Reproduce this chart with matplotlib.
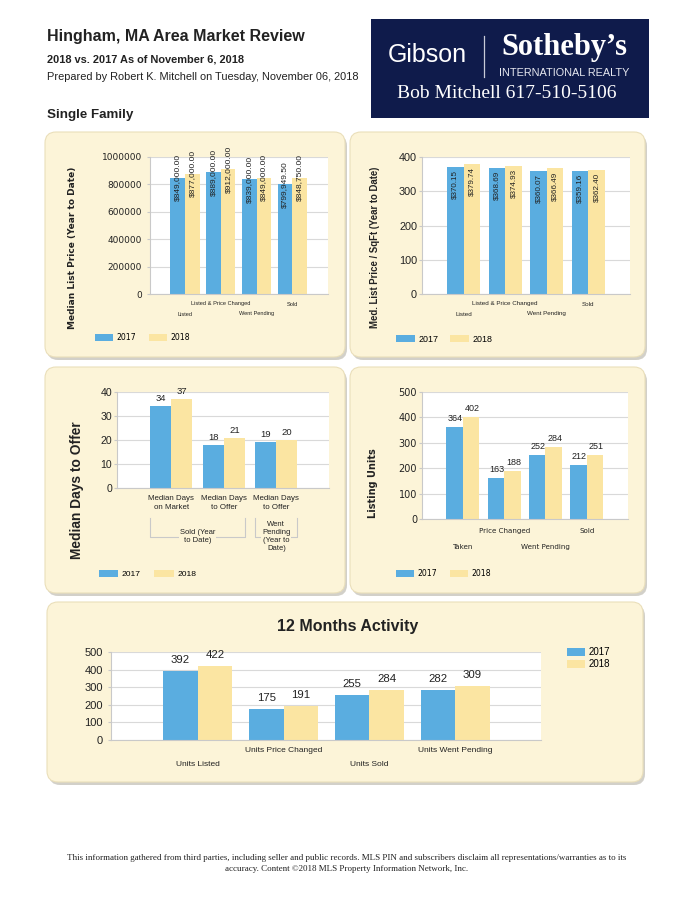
import matplotlib
matplotlib.use('Agg')
import matplotlib.pyplot as plt
from matplotlib.patches import FancyBboxPatch, Rectangle, Patch
from matplotlib import transforms
import numpy as np

# ---------------- data ----------------
years = ['2017', '2018']

p1_cats = ['Listed', 'Listed & Price Changed', 'Went Pending', 'Sold']
p1_2017 = [849000.00, 889000.00, 839000.00, 799949.50]
p1_2018 = [877000.00, 912000.00, 849000.00, 848750.00]
p1_yticks = [0, 200000, 400000, 600000, 800000, 1000000]

p2_cats = ['Listed', 'Listed & Price Changed', 'Went Pending', 'Sold']
p2_2017 = [370.15, 368.69, 360.07, 359.16]
p2_2018 = [379.74, 374.93, 366.49, 362.40]
p2_yticks = [0, 100, 200, 300, 400]

p3_cats = ['Median Days\non Market', 'Median Days\nto Offer', 'Median Days\nto Offer']
p3_groups = ['Sold (Year\nto Date)', 'Went\nPending\n(Year to\nDate)']
p3_2017 = [34, 18, 19]
p3_2018 = [37, 21, 20]
p3_yticks = [0, 10, 20, 30, 40]

p4_cats = ['Taken', 'Price Changed', 'Went Pending', 'Sold']
p4_2017 = [364, 163, 252, 212]
p4_2018 = [402, 188, 284, 251]
p4_yticks = [0, 100, 200, 300, 400, 500]

p5_cats = ['Units Listed', 'Units Price Changed', 'Units Sold', 'Units Went Pending']
p5_2017 = [392, 175, 255, 282]
p5_2018 = [422, 191, 284, 309]
p5_yticks = [0, 100, 200, 300, 400, 500]

# ---------------- style ----------------
BLUE = '#5aade0'
YEL = '#fbe5a2'
PANEL = '#fcf4d8'
TXT = '#222222'
SANS = ['Liberation Sans', 'DejaVu Sans']
TAH = ['DejaVu Sans']
SERIF = ['Liberation Serif', 'DejaVu Serif']

W, H = 695, 900
fig = plt.figure(figsize=(6.95, 9), dpi=100)
fig.patch.set_facecolor('white')
bg = fig.add_axes([0, 0, 1, 1], zorder=-1)
bg.set_xlim(0, W)
bg.set_ylim(H, 0)
bg.axis('off')


def add_ax(x0, y0, x1, y1):
    return fig.add_axes([x0 / W, 1 - y1 / H, (x1 - x0) / W, (y1 - y0) / H])


def panel(x0, y0, x1, y1, r=11):
    sh = FancyBboxPatch((x0 + 2, y0 + 3), x1 - x0, y1 - y0,
                        boxstyle=f'round,pad=0,rounding_size={r}',
                        fc='#c4c1b8', ec='none', alpha=0.75)
    bg.add_patch(sh)
    p = FancyBboxPatch((x0, y0), x1 - x0, y1 - y0,
                       boxstyle=f'round,pad=0,rounding_size={r}',
                       fc=PANEL, ec='#eadfba', lw=0.8)
    bg.add_patch(p)


def style_ax(ax, xlim, ymax, yticks, fam, fs, pad):
    ax.set_facecolor('white')
    ax.set_xlim(*xlim)
    ax.set_ylim(0, ymax)
    ax.set_yticks(yticks)
    ax.set_yticklabels([str(t) for t in yticks], fontfamily=fam, fontsize=fs, color=TXT)
    ax.set_xticks([])
    ax.grid(axis='y', color='#d9d9d9', lw=0.8)
    ax.set_axisbelow(True)
    for s in ['top', 'right']:
        ax.spines[s].set_visible(False)
    for s in ['left', 'bottom']:
        ax.spines[s].set_color('#c9c9c9')
        ax.spines[s].set_linewidth(0.8)
    ax.tick_params(axis='y', length=2.2, color='#c9c9c9', pad=pad)


def bars(ax, a, b, w=0.4):
    x = np.arange(len(a))
    ax.bar(x - w / 2, a, w, color=BLUE, zorder=2, lw=0)
    ax.bar(x + w / 2, b, w, color=YEL, zorder=2, lw=0)
    return x


def blend(ax):
    return transforms.blended_transform_factory(ax.transData, bg.transData)


def cat_labels(ax, labels, y_up, y_low, fam, fs):
    tr = blend(ax)
    for i, lab in enumerate(labels):
        y = y_up if i % 2 == 1 else y_low
        ax.text(i, y, lab, transform=tr, ha='center', va='center',
                fontsize=fs, family=fam, color=TXT)


def legend2(ax, x, y, fam, fs, hl, hh, tp, cs):
    handles = [Patch(fc=BLUE, ec='none'), Patch(fc=YEL, ec='none')]
    ax.legend(handles, years, loc='center left',
              bbox_to_anchor=(x / W, 1 - y / H), bbox_transform=fig.transFigure,
              ncol=2, frameon=False, prop={'family': fam, 'size': fs},
              handlelength=hl, handleheight=hh, handletextpad=tp,
              columnspacing=cs, borderpad=0, borderaxespad=0)


def T(x, y, s, **kw):
    kw.setdefault('color', TXT)
    bg.text(x, y, s, **kw)


# ---------------- header ----------------
T(47, 37, 'Hingham, MA Area Market Review', fontsize=11.5, weight='bold',
  family=SANS, va='center', ha='left')
T(47, 60, '2018 vs. 2017 As of November 6, 2018', fontsize=7.9, weight='bold',
  family=SANS, va='center', ha='left')
T(47, 77, 'Prepared by Robert K. Mitchell on Tuesday, November 06, 2018',
  fontsize=7.9, family=SANS, va='center', ha='left')
T(47, 115, 'Single Family', fontsize=9.6, weight='bold', family=SANS,
  va='center', ha='left')

bg.add_patch(Rectangle((371, 19), 278, 99, fc='#0f1b4b', ec='none'))
T(427, 55, 'Gibson', fontsize=18, family=SANS, color='white', ha='center', va='center')
bg.plot([484, 484], [36, 77], color='#c8cbd8', lw=0.9)
T(564, 48, "Sotheby\u2019s", fontsize=22, family=SERIF, weight='bold',
  color='white', ha='center', va='center')
T(564, 73, 'INTERNATIONAL REALTY', fontsize=7.8, family=SANS,
  color='#e6e8f0', ha='center', va='center')
T(507, 94, 'Bob Mitchell 617-510-5106', fontsize=14, family=SERIF,
  color='white', ha='center', va='center')

# ---------------- panels ----------------
panel(45, 132, 345, 357)
panel(350, 132, 645, 357)
panel(45, 367, 345, 593)
panel(350, 367, 645, 593)
panel(47, 602, 643, 782)

# ---- panel 1 ----
ax1 = add_ax(150, 157, 328, 294)
style_ax(ax1, (-0.98, 4.0), 1000000, p1_yticks, TAH, 6.5, 3.6)
x = bars(ax1, p1_2017, p1_2018, 0.41)
for i in x:
    for dx, v in ((-0.205, p1_2017[i]), (0.205, p1_2018[i])):
        ax1.annotate(f'${v:,.2f}', (i + dx, v), ha='center', va='center',
                     rotation=90, fontsize=6, family=SANS, color=TXT)
cat_labels(ax1, p1_cats, 304, 314, SANS, 4.1)
T(72, 248, 'Median List Price (Year to Date)', fontsize=6.5, weight='bold',
  family=TAH, rotation=90, ha='center', va='center')
legend2(ax1, 95, 338, TAH, 5.6, 2.3, 1.0, 0.5, 1.6)

# ---- panel 2 ----
ax2 = add_ax(422, 157, 630, 294)
style_ax(ax2, (-1.0, 4.0), 400, p2_yticks, SANS, 7.8, 1.4)
x = bars(ax2, p2_2017, p2_2018, 0.4)
for i in x:
    for dx, v in ((-0.2, p2_2017[i]), (0.2, p2_2018[i])):
        ax2.annotate(f'${v:.2f}', (i + dx, v), xytext=(0, -3), textcoords='offset pixels',
                     ha='center', va='top', rotation=90, fontsize=5.8,
                     family=SANS, color=TXT)
cat_labels(ax2, p2_cats, 304, 314, SANS, 4.5)
T(375, 247, 'Med. List Price / SqFt (Year to Date)', fontsize=6.9, weight='bold',
  family=SANS, rotation=90, ha='center', va='center')
legend2(ax2, 396, 339, SANS, 6.4, 2.1, 0.9, 0.45, 1.3)

# ---- panel 3 ----
ax3 = add_ax(117, 392, 329, 488)
style_ax(ax3, (-1.03, 3.0), 40, p3_yticks, SANS, 7.6, 1.4)
x = bars(ax3, p3_2017, p3_2018, 0.4)
for i in x:
    for dx, v in ((-0.2, p3_2017[i]), (0.2, p3_2018[i])):
        ax3.annotate(f'{v}', (i + dx, v), xytext=(0, 5), textcoords='offset pixels',
                     ha='center', va='baseline', fontsize=6.8, family=SANS, color=TXT)
tr3 = blend(ax3)
for i, lab in enumerate(p3_cats):
    ax3.text(i, 503, lab, transform=tr3, ha='center', va='center', fontsize=5.7,
             family=SANS, color=TXT, linespacing=1.3)
# group brackets
for (xa, xb), lab, yc in (((-0.4, 1.4), p3_groups[0], 537), ((1.6, 2.4), p3_groups[1], 536)):
    ax3.plot([xa, xa, xb, xb], [518, 537, 537, 518], transform=tr3, color='#c9c9c9',
             lw=0.8, clip_on=False)
    ax3.text((xa + xb) / 2, yc, lab, transform=tr3, ha='center', va='center',
             fontsize=5.5, family=SANS, color=TXT, linespacing=1.2,
             bbox=dict(fc=PANEL, ec='none', pad=0.6))
T(77, 490, 'Median Days to Offer', fontsize=9.9, weight='bold', family=SANS,
  rotation=90, ha='center', va='center')
legend2(ax3, 99, 574, SANS, 6.1, 2.3, 1.0, 0.4, 1.6)

# ---- panel 4 ----
ax4 = add_ax(422, 392, 628, 519)
style_ax(ax4, (-0.99, 4.0), 500, p4_yticks, TAH, 7.0, 1.4)
x = bars(ax4, p4_2017, p4_2018, 0.4)
for i in x:
    for dx, v in ((-0.2, p4_2017[i]), (0.2, p4_2018[i])):
        ax4.annotate(f'{v}', (i + dx, v), xytext=(1, 6), textcoords='offset pixels',
                     ha='center', va='baseline', fontsize=6.5, family=SANS, color=TXT)
cat_labels(ax4, p4_cats, 531, 547, TAH, 5.1)
T(373, 483, 'Listing Units', fontsize=7.0, weight='bold', family=TAH,
  rotation=90, ha='center', va='center')
legend2(ax4, 396, 574, TAH, 5.6, 2.3, 1.0, 0.5, 1.6)

# ---- panel 5 ----
T(348, 627, '12 Months Activity', fontsize=11.5, weight='bold', family=SANS,
  ha='center', va='center')
ax5 = add_ax(111, 652, 541, 740)
style_ax(ax5, (-1.01, 4.0), 500, p5_yticks, SANS, 8.0, 3.6)
x = bars(ax5, p5_2017, p5_2018, 0.4)
for i in x:
    for dx, v in ((-0.2, p5_2017[i]), (0.2, p5_2018[i])):
        ax5.annotate(f'{v}', (i + dx, v), xytext=(0, 8), textcoords='offset pixels',
                     ha='center', va='baseline', fontsize=8.2, family=SANS, color=TXT)
cat_labels(ax5, p5_cats, 751, 764, SANS, 6.0)
ax5.legend([Patch(fc=BLUE, ec='none'), Patch(fc=YEL, ec='none')], years,
           loc='upper left', bbox_to_anchor=(567 / W, 1 - 647 / H),
           bbox_transform=fig.transFigure, frameon=False,
           prop={'family': SANS, 'size': 7}, handlelength=1.8, handleheight=0.85,
           handletextpad=0.4, labelspacing=0.25, borderpad=0, borderaxespad=0)

# ---------------- footer ----------------
T(347, 858, 'This information gathered from third parties, including seller and public records. '
  'MLS PIN and subscribers disclaim all representations/warranties as to its',
  fontsize=6.5, family=SERIF, ha='center', va='center')
T(347, 869, 'accuracy. Content \u00a92018 MLS Property Information Network, Inc.',
  fontsize=6.5, family=SERIF, ha='center', va='center')

fig.savefig('out.png', dpi=100, facecolor='white')
